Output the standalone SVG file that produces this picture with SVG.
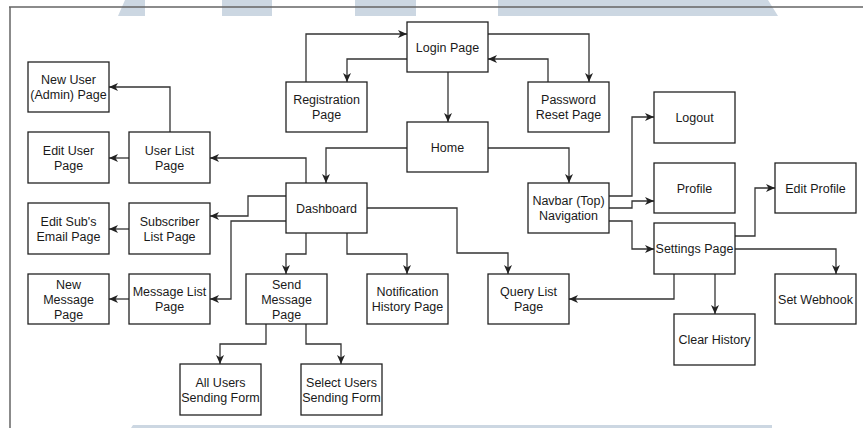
<svg xmlns="http://www.w3.org/2000/svg" width="863" height="428" viewBox="0 0 863 428">
<style>
.bg{fill:#ccd7e2}
.frame{stroke:#666;stroke-width:1.5;fill:none}
.box{fill:#fff;stroke:#222;stroke-width:1.3}
.t{font-family:"Liberation Sans",Arial,sans-serif;font-size:12.5px;fill:#1a1a1a;text-anchor:middle}
.c{fill:none;stroke:#333;stroke-width:1.3;marker-end:url(#arr)}
</style>
<defs>
<marker id="arr" markerUnits="userSpaceOnUse" markerWidth="10" markerHeight="9" refX="9" refY="4" orient="auto">
<path d="M0,0 L9,4 L0,8 L2.5,4 z" fill="#222"/>
</marker>
</defs>
<rect width="863" height="428" fill="#fff"/>
<g id="watermark">
<polygon class="bg" points="125,0 145,0 145,16 118,16"/>
<rect class="bg" x="222" y="0" width="50" height="16"/>
<rect class="bg" x="355" y="0" width="61" height="16"/>
<polygon class="bg" points="498,0 768,0 778,16 498,16"/>
<polygon class="bg" points="133,425 772,425 772,428 131,428"/>
</g>
<g id="frame">
<path class="frame" d="M9,7 H863 M10,7 V428"/>
</g>
<g id="connectors">
<polyline class="c" points="306,82 306,34 407,34"/>
<polyline class="c" points="407,59 347,59 347,82"/>
<polyline class="c" points="488,34 589,34 589,82"/>
<polyline class="c" points="548,82 548,59 488,59"/>
<polyline class="c" points="448,72 448,122"/>
<polyline class="c" points="407,148 326,148 326,183"/>
<polyline class="c" points="488,148 569,148 569,183"/>
<polyline class="c" points="306,183 306,158 210,158"/>
<polyline class="c" points="286,196 248,196 248,216 210,216"/>
<polyline class="c" points="286,221 231,221 231,299 210,299"/>
<polyline class="c" points="306,233 306,254 286,254 286,274"/>
<polyline class="c" points="347,233 347,254 407,254 407,274"/>
<polyline class="c" points="367,208 457,208 457,253 508,253 508,274"/>
<polyline class="c" points="170,132 170,87 109,87"/>
<polyline class="c" points="129,158 109,158"/>
<polyline class="c" points="129,229 109,229"/>
<polyline class="c" points="129,299 109,299"/>
<polyline class="c" points="266,324 266,344 220,344 220,364"/>
<polyline class="c" points="306,324 306,344 341,344 341,364"/>
<polyline class="c" points="609,196 632,196 632,117 654,117"/>
<polyline class="c" points="609,208 632,208 632,201 654,201"/>
<polyline class="c" points="609,221 632,221 632,249 654,249"/>
<polyline class="c" points="735,236 755,236 755,188 775,188"/>
<polyline class="c" points="735,249 836,249 836,274"/>
<polyline class="c" points="674,274 674,299 569,299"/>
<polyline class="c" points="715,274 715,314"/>
</g>
<g id="login"><rect class="box" x="407" y="22" width="81" height="50"/><text class="t" x="447.5" y="51.5">Login Page</text></g>
<g id="registration"><rect class="box" x="286" y="82" width="81" height="50"/><text class="t" x="326.5" y="104">Registration</text><text class="t" x="326.5" y="119">Page</text></g>
<g id="password-reset"><rect class="box" x="528" y="82" width="81" height="50"/><text class="t" x="568.5" y="104">Password</text><text class="t" x="568.5" y="119">Reset Page</text></g>
<g id="home"><rect class="box" x="407" y="122" width="81" height="50"/><text class="t" x="447.5" y="151.5">Home</text></g>
<g id="new-user"><rect class="box" x="28" y="62" width="81" height="50"/><text class="t" x="68.5" y="84">New User</text><text class="t" x="68.5" y="99">(Admin) Page</text></g>
<g id="edit-user"><rect class="box" x="28" y="132" width="81" height="51"/><text class="t" x="68.5" y="154.5">Edit User</text><text class="t" x="68.5" y="169.5">Page</text></g>
<g id="user-list"><rect class="box" x="129" y="132" width="81" height="51"/><text class="t" x="169.5" y="154.5">User List</text><text class="t" x="169.5" y="169.5">Page</text></g>
<g id="edit-sub"><rect class="box" x="28" y="203" width="81" height="51"/><text class="t" x="68.5" y="225.5">Edit Sub's</text><text class="t" x="68.5" y="240.5">Email Page</text></g>
<g id="subscriber-list"><rect class="box" x="129" y="203" width="81" height="51"/><text class="t" x="169.5" y="225.5">Subscriber</text><text class="t" x="169.5" y="240.5">List Page</text></g>
<g id="new-message"><rect class="box" x="28" y="274" width="81" height="50"/><text class="t" x="68.5" y="288.5">New</text><text class="t" x="68.5" y="303.5">Message</text><text class="t" x="68.5" y="318.5">Page</text></g>
<g id="message-list"><rect class="box" x="129" y="274" width="81" height="50"/><text class="t" x="169.5" y="296">Message List</text><text class="t" x="169.5" y="311">Page</text></g>
<g id="dashboard"><rect class="box" x="286" y="183" width="81" height="50"/><text class="t" x="326.5" y="212.5">Dashboard</text></g>
<g id="send-message"><rect class="box" x="246" y="274" width="81" height="50"/><text class="t" x="286.5" y="288.5">Send</text><text class="t" x="286.5" y="303.5">Message</text><text class="t" x="286.5" y="318.5">Page</text></g>
<g id="notification-history"><rect class="box" x="367" y="274" width="81" height="50"/><text class="t" x="407.5" y="296">Notification</text><text class="t" x="407.5" y="311">History Page</text></g>
<g id="all-users"><rect class="box" x="180" y="364" width="81" height="51"/><text class="t" x="220.5" y="386.5">All Users</text><text class="t" x="220.5" y="401.5">Sending Form</text></g>
<g id="select-users"><rect class="box" x="301" y="364" width="81" height="51"/><text class="t" x="341.5" y="386.5">Select Users</text><text class="t" x="341.5" y="401.5">Sending Form</text></g>
<g id="query-list"><rect class="box" x="488" y="274" width="81" height="50"/><text class="t" x="528.5" y="296">Query List</text><text class="t" x="528.5" y="311">Page</text></g>
<g id="navbar"><rect class="box" x="528" y="183" width="81" height="50"/><text class="t" x="568.5" y="205">Navbar (Top)</text><text class="t" x="568.5" y="220">Navigation</text></g>
<g id="logout"><rect class="box" x="654" y="92" width="81" height="51"/><text class="t" x="694.5" y="122">Logout</text></g>
<g id="profile"><rect class="box" x="654" y="163" width="81" height="50"/><text class="t" x="694.5" y="192.5">Profile</text></g>
<g id="edit-profile"><rect class="box" x="775" y="163" width="81" height="50"/><text class="t" x="815.5" y="192.5">Edit Profile</text></g>
<g id="settings"><rect class="box" x="654" y="223" width="81" height="51"/><text class="t" x="694.5" y="253">Settings Page</text></g>
<g id="set-webhook"><rect class="box" x="775" y="274" width="81" height="50"/><text class="t" x="815.5" y="303.5">Set Webhook</text></g>
<g id="clear-history"><rect class="box" x="674" y="314" width="81" height="51"/><text class="t" x="714.5" y="344">Clear History</text></g>
</svg>
